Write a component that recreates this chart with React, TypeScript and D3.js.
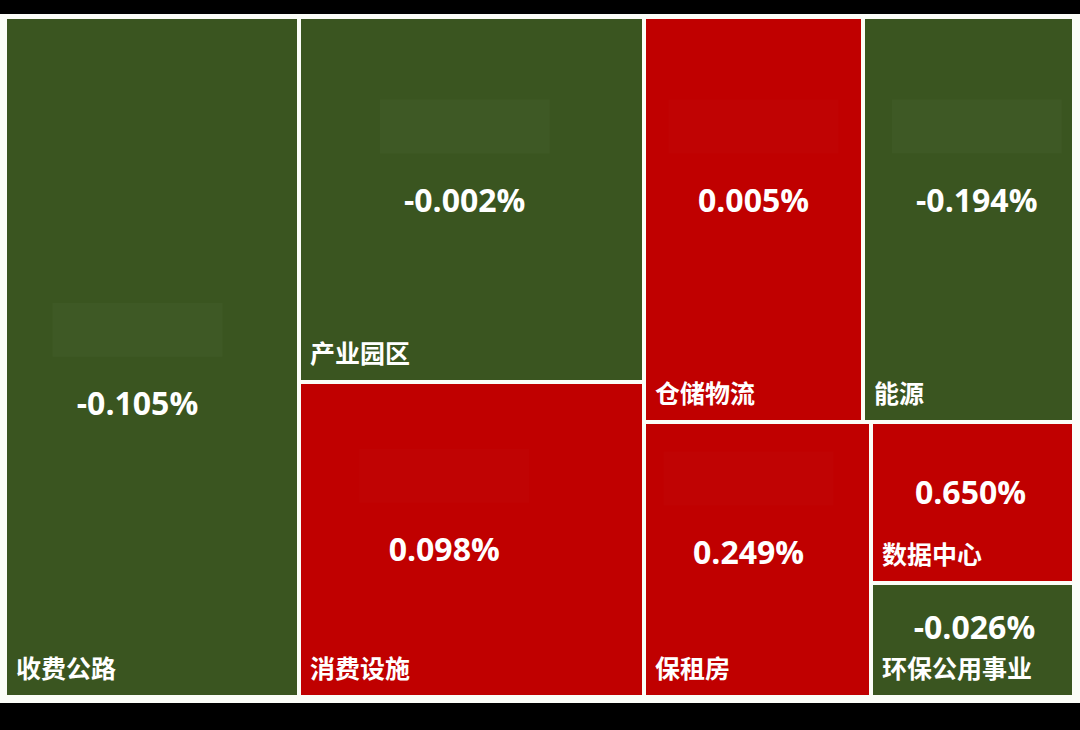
import React from "react";
import * as d3 from "d3";

// ---- data ----
const sectors = ["收费公路", "产业园区", "消费设施", "仓储物流", "能源", "保租房", "数据中心", "环保公用事业"];
const weights = [198.4, 125.0, 107.8, 87.8, 84.9, 61.8, 32.3, 22.9];
const changes = [-0.105, -0.002, 0.098, 0.005, -0.194, 0.249, 0.65, -0.026];
// grouping: which nested block each sector belongs to
const groupPath = [
  ["收费公路"],
  ["B", "产业园区"],
  ["B", "消费设施"],
  ["C", "top", "仓储物流"],
  ["C", "top", "能源"],
  ["C", "bottom", "保租房"],
  ["C", "bottom", "D", "数据中心"],
  ["C", "bottom", "D", "环保公用事业"],
];

// ---- styling / layout (not data) ----
const W = 1080, H = 730;
const OX = 7, OY = 19, TW = 1065, TH = 676;
const GREEN = "#3a5520";
const RED = "#c00000";
const labelPos: Record<string, [number, number]> = {
  "收费公路": [0.45, 0.568],
  "产业园区": [0.48, 0.5],
  "消费设施": [0.42, 0.53],
  "仓储物流": [0.5, 0.45],
  "能源": [0.54, 0.45],
  "保租房": [0.46, 0.47],
  "数据中心": [0.49, 0.43],
  "环保公用事业": [0.51, 0.38],
};

type Node = { name: string; value?: number; change?: number; children?: Node[] };

function buildTree(): Node {
  const root: Node = { name: "root", children: [] };
  sectors.forEach((s, i) => {
    let cur = root;
    const path = groupPath[i];
    for (let k = 0; k < path.length - 1; k++) {
      let next = cur.children!.find((c) => c.name === path[k]);
      if (!next) {
        next = { name: path[k], children: [] };
        cur.children!.push(next);
      }
      cur = next;
    }
    cur.children!.push({ name: s, value: weights[i], change: changes[i] });
  });
  return root;
}

export default function App() {
  const root = d3
    .hierarchy<Node>(buildTree())
    .sum((d) => d.value ?? 0);
  d3.treemap<Node>()
    .tile(d3.treemapSliceDice)
    .size([TW, TH])
    .paddingInner(4)
    .round(true)(root);
  const leaves = root.leaves() as d3.HierarchyRectangularNode<Node>[];
  const fmt = (v: number) => v.toFixed(3) + "%";
  const font = "'Noto Sans CJK SC', 'Noto Sans', sans-serif";

  return (
    <svg
      width={W}
      height={H}
      style={{ position: "absolute", left: 0, top: 0, display: "block" }}
    >
      <rect x={0} y={0} width={W} height={H} fill="#fbfdf8" />
      <rect x={0} y={0} width={W} height={14} fill="#000" />
      <rect x={0} y={703} width={W} height={H - 703} fill="#000" />
      <g transform={`translate(${OX},${OY})`}>
        {leaves.map((l) => {
          const d = l.data;
          const w = l.x1 - l.x0, h = l.y1 - l.y0;
          const [fx, fy] = labelPos[d.name];
          const cx = l.x0 + w * fx;
          const cy = l.y0 + h * fy;
          const pos = (d.change ?? 0) >= 0;
          return (
            <g key={d.name}>
              <rect x={l.x0} y={l.y0} width={w} height={h} fill={pos ? RED : GREEN} />
              {h > 250 && (
                <rect
                  x={cx - 85}
                  y={cy - 100}
                  width={170}
                  height={54}
                  fill="#ffffff"
                  opacity={pos ? 0.012 : 0.025}
                />
              )}
              <text
                x={cx}
                y={cy}
                textAnchor="middle"
                dominantBaseline="central"
                fill="#fff"
                fontFamily="'Open Sans', 'Noto Sans', sans-serif"
                fontWeight={700}
                fontSize={32}
              >
                {fmt(d.change ?? 0)}
              </text>
              <text
                x={l.x0 + 9}
                y={l.y1 - 17}
                fill="#fff"
                fontFamily={font}
                fontWeight={700}
                fontSize={25}
              >
                {d.name}
              </text>
            </g>
          );
        })}
      </g>
    </svg>
  );
}
